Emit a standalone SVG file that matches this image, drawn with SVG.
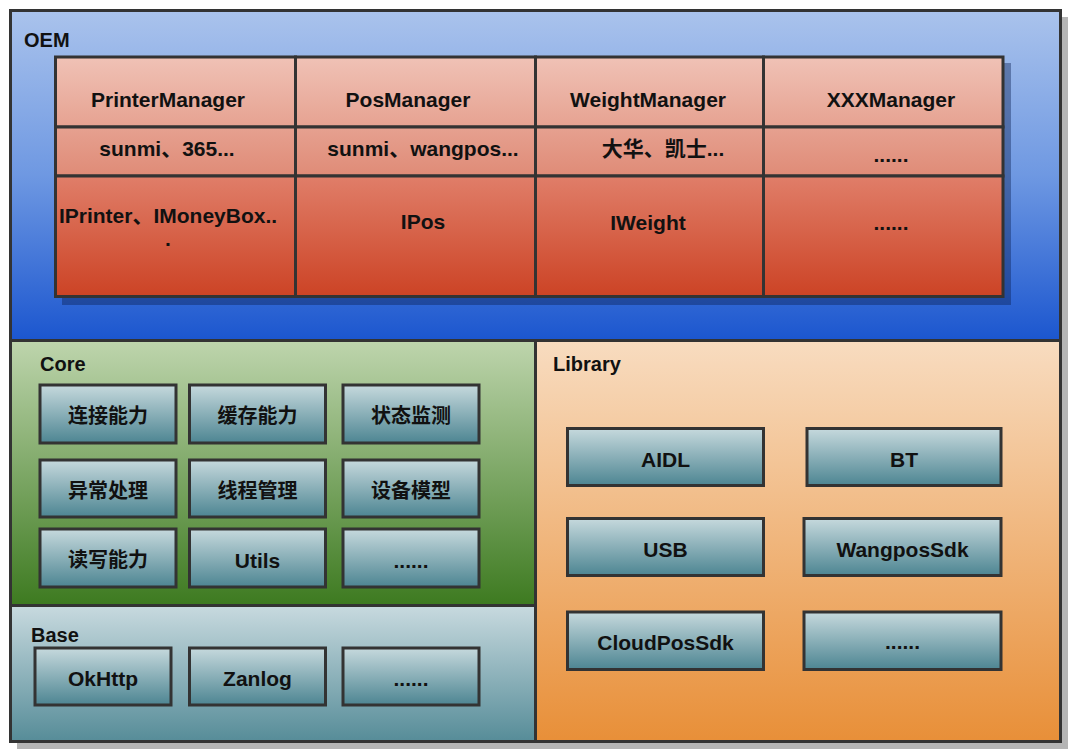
<svg xmlns="http://www.w3.org/2000/svg" width="1080" height="755" viewBox="0 0 1080 755">
<defs>
<linearGradient id="gOem" x1="0" y1="0" x2="0" y2="1"><stop offset="0" stop-color="#aac3ec"/><stop offset="0.5" stop-color="#6e98e2"/><stop offset="1" stop-color="#1b56cf"/></linearGradient>
<linearGradient id="gCore" x1="0" y1="0" x2="0" y2="1"><stop offset="0" stop-color="#bed5ad"/><stop offset="1" stop-color="#3d7a20"/></linearGradient>
<linearGradient id="gBase" x1="0" y1="0" x2="0" y2="1"><stop offset="0" stop-color="#c8dadf"/><stop offset="1" stop-color="#568c98"/></linearGradient>
<linearGradient id="gLib" x1="0" y1="0" x2="0" y2="1"><stop offset="0" stop-color="#f8dcc0"/><stop offset="1" stop-color="#e88f38"/></linearGradient>
<linearGradient id="gBox" x1="0" y1="0" x2="0" y2="1"><stop offset="0" stop-color="#c6d9dd"/><stop offset="1" stop-color="#4d8592"/></linearGradient>
<linearGradient id="gR1" x1="0" y1="0" x2="0" y2="1"><stop offset="0" stop-color="#f0c2b6"/><stop offset="1" stop-color="#e6a291"/></linearGradient>
<linearGradient id="gR2" x1="0" y1="0" x2="0" y2="1"><stop offset="0" stop-color="#e6a190"/><stop offset="1" stop-color="#df8b77"/></linearGradient>
<linearGradient id="gR3" x1="0" y1="0" x2="0" y2="1"><stop offset="0" stop-color="#e07e69"/><stop offset="1" stop-color="#cc4325"/></linearGradient>
</defs>
<style>
.panel{stroke:#333;stroke-width:3}
.box{fill:url(#gBox);stroke:#333;stroke-width:3}
.cell{stroke:#333;stroke-width:3}
.t{font-family:"Liberation Sans","Noto Sans CJK SC",Arial,sans-serif;font-weight:bold;font-size:21px;fill:#111;text-anchor:middle}
.cjk{font-family:"Noto Sans CJK SC","Liberation Sans",sans-serif;font-weight:bold;font-size:20px;fill:#111;text-anchor:middle}
.lbl{font-family:"Liberation Sans",Arial,sans-serif;font-weight:bold;font-size:20px;fill:#111}
</style>
<rect x="17" y="17" width="1051" height="732" fill="#b5b5b5"/>

<g id="oem">
<rect class="panel" x="10.5" y="10.5" width="1050" height="330" fill="url(#gOem)"/>
<text class="lbl" x="24" y="47">OEM</text>
<rect x="62" y="63" width="949" height="242" fill="#0a1e50" opacity="0.4"/>
</g>

<g id="printer-manager">
<rect class="cell" x="55.5" y="57" width="240" height="70" fill="url(#gR1)"/>
<rect class="cell" x="55.5" y="127" width="240" height="49" fill="url(#gR2)"/>
<rect class="cell" x="55.5" y="176" width="240" height="120.5" fill="url(#gR3)"/>
<text class="t" x="168" y="107">PrinterManager</text>
<text class="t" x="167" y="156">sunmi、365...</text>
<text class="t" x="168" y="223">IPrinter、IMoneyBox..<tspan x="168" y="246">.</tspan></text>
</g>
<g id="pos-manager">
<rect class="cell" x="295.5" y="57" width="240" height="70" fill="url(#gR1)"/>
<rect class="cell" x="295.5" y="127" width="240" height="49" fill="url(#gR2)"/>
<rect class="cell" x="295.5" y="176" width="240" height="120.5" fill="url(#gR3)"/>
<text class="t" x="408" y="107">PosManager</text>
<text class="t" x="423" y="156">sunmi、wangpos...</text>
<text class="t" x="423" y="229">IPos</text>
</g>
<g id="weight-manager">
<rect class="cell" x="535.5" y="57" width="228" height="70" fill="url(#gR1)"/>
<rect class="cell" x="535.5" y="127" width="228" height="49" fill="url(#gR2)"/>
<rect class="cell" x="535.5" y="176" width="228" height="120.5" fill="url(#gR3)"/>
<text class="t" x="648" y="107">WeightManager</text>
<text class="t" x="663" y="156">大华、凯士...</text>
<text class="t" x="648" y="230">IWeight</text>
</g>
<g id="xxx-manager">
<rect class="cell" x="763.5" y="57" width="239.5" height="70" fill="url(#gR1)"/>
<rect class="cell" x="763.5" y="127" width="239.5" height="49" fill="url(#gR2)"/>
<rect class="cell" x="763.5" y="176" width="239.5" height="120.5" fill="url(#gR3)"/>
<text class="t" x="891" y="107">XXXManager</text>
<text class="t" x="891" y="162">......</text>
<text class="t" x="891" y="230">......</text>
</g>

<g id="core">
<rect class="panel" x="10.5" y="340.5" width="525" height="265" fill="url(#gCore)"/>
<text class="lbl" x="40" y="371">Core</text>
</g>
<g id="core-connect"><rect class="box" x="40" y="385" width="136" height="58"/><text class="cjk" x="108" y="423">连接能力</text></g>
<g id="core-cache"><rect class="box" x="189.5" y="385" width="136" height="58"/><text class="cjk" x="257.5" y="423">缓存能力</text></g>
<g id="core-status"><rect class="box" x="343" y="385" width="136" height="58"/><text class="cjk" x="411" y="423">状态监测</text></g>
<g id="core-exception"><rect class="box" x="40" y="460" width="136" height="57"/><text class="cjk" x="108" y="498">异常处理</text></g>
<g id="core-thread"><rect class="box" x="189.5" y="460" width="136" height="57"/><text class="cjk" x="257.5" y="498">线程管理</text></g>
<g id="core-device"><rect class="box" x="343" y="460" width="136" height="57"/><text class="cjk" x="411" y="498">设备模型</text></g>
<g id="core-rw"><rect class="box" x="40" y="529" width="136" height="58"/><text class="cjk" x="108" y="567">读写能力</text></g>
<g id="core-utils"><rect class="box" x="189.5" y="529" width="136" height="58"/><text class="t" x="257.5" y="568">Utils</text></g>
<g id="core-more"><rect class="box" x="343" y="529" width="136" height="58"/><text class="t" x="411" y="568">......</text></g>

<g id="base">
<rect class="panel" x="10.5" y="605.5" width="525" height="136" fill="url(#gBase)"/>
<text class="lbl" x="31" y="642">Base</text>
</g>
<g id="base-okhttp"><rect class="box" x="35" y="648" width="136" height="57"/><text class="t" x="103" y="686">OkHttp</text></g>
<g id="base-zanlog"><rect class="box" x="189.5" y="648" width="136" height="57"/><text class="t" x="257.5" y="686">Zanlog</text></g>
<g id="base-more"><rect class="box" x="343" y="648" width="136" height="57"/><text class="t" x="411" y="686">......</text></g>

<g id="library">
<rect class="panel" x="535.5" y="340.5" width="525" height="401" fill="url(#gLib)"/>
<text class="lbl" x="553" y="371">Library</text>
</g>
<g id="lib-aidl"><rect class="box" x="567.5" y="428.5" width="196" height="57"/><text class="t" x="665.5" y="467">AIDL</text></g>
<g id="lib-bt"><rect class="box" x="807" y="428.5" width="194" height="57"/><text class="t" x="904" y="467">BT</text></g>
<g id="lib-usb"><rect class="box" x="567.5" y="518.5" width="196" height="57"/><text class="t" x="665.5" y="557">USB</text></g>
<g id="lib-wangpos"><rect class="box" x="804" y="518.5" width="197" height="57"/><text class="t" x="902.5" y="557">WangposSdk</text></g>
<g id="lib-cloudpos"><rect class="box" x="567.5" y="612" width="196" height="57.5"/><text class="t" x="665.5" y="650">CloudPosSdk</text></g>
<g id="lib-more"><rect class="box" x="804" y="612" width="197" height="57.5"/><text class="t" x="902.5" y="649">......</text></g>

<g id="connectors"/>
</svg>
